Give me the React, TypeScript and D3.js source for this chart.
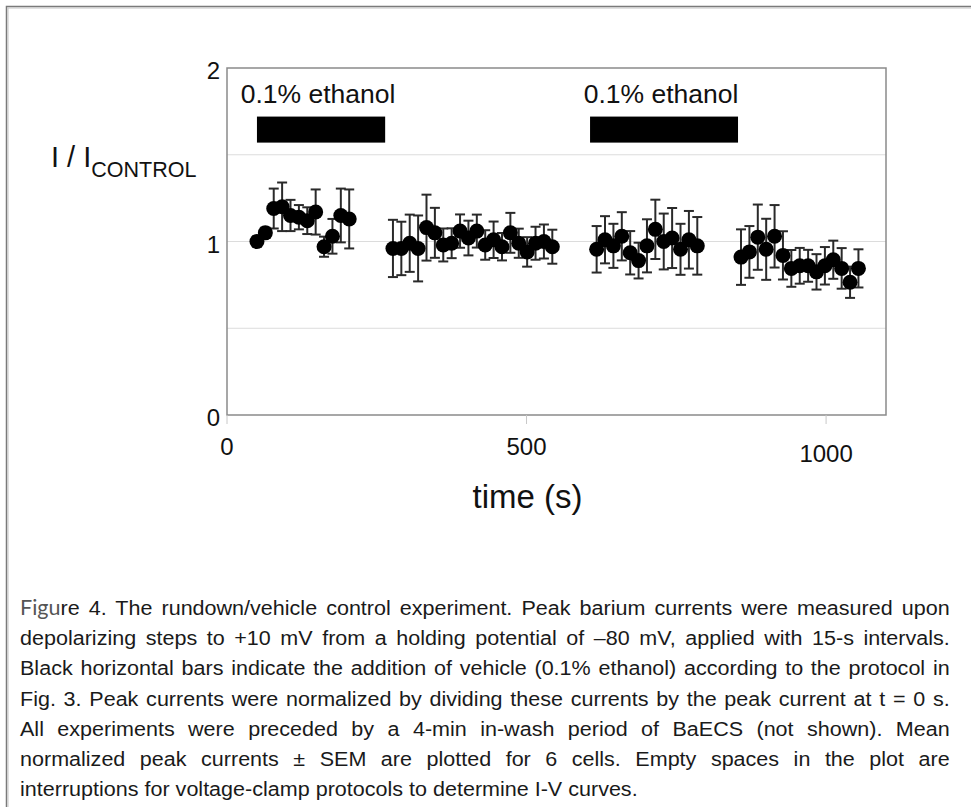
import { useEffect, useRef } from 'react';
import * as d3 from 'd3';

// time (s) of each sweep (4 runs separated by I-V protocols)
const timeS = [
  50, 64, 78, 92, 106, 120, 134, 148, 162, 176, 190, 204,
  277, 291, 305, 319, 333, 347, 361, 375, 389, 403, 417, 431, 445, 459, 473, 487, 501, 515, 529, 543,
  617, 631, 645, 659, 673, 687, 701, 715, 729, 743, 757, 771, 785,
  858, 872, 886, 900, 914, 928, 942, 956, 970, 984, 998, 1012, 1026, 1040, 1054,
];

// normalized peak current I / I control
const meanI = [
  1.0, 1.05, 1.19, 1.2, 1.15, 1.14, 1.12, 1.17, 0.97, 1.03, 1.15, 1.13,
  0.96, 0.96, 0.99, 0.96, 1.08, 1.05, 0.98, 0.99, 1.06, 1.02, 1.06, 0.98, 1.01, 0.97, 1.05, 0.99, 0.94, 0.99, 1.0, 0.97,
  0.955, 1.01, 0.975, 1.03, 0.935, 0.89, 0.975, 1.07, 1.0, 1.02, 0.955, 1.01, 0.975,
  0.91, 0.94, 1.025, 0.955, 1.03, 0.92, 0.845, 0.86, 0.86, 0.825, 0.86, 0.895, 0.845, 0.765, 0.845,
];

// SEM
const semI = [
  0.03, 0.03, 0.115, 0.14, 0.09, 0.07, 0.077, 0.13, 0.058, 0.1, 0.155, 0.17,
  0.165, 0.154, 0.165, 0.19, 0.19, 0.144, 0.095, 0.086, 0.096, 0.1, 0.095, 0.085, 0.105, 0.079, 0.115, 0.084, 0.085, 0.095, 0.098, 0.098,
  0.134, 0.136, 0.127, 0.139, 0.125, 0.103, 0.153, 0.171, 0.161, 0.173, 0.147, 0.166, 0.166,
  0.16, 0.149, 0.188, 0.176, 0.18, 0.139, 0.106, 0.103, 0.092, 0.102, 0.108, 0.11, 0.117, 0.09, 0.11,
];

// ethanol application periods (s)
const ethanolStart = [50, 606];
const ethanolEnd = [264, 853];
const ethanolLabel = ['0.1% ethanol', '0.1% ethanol'];

const xTicks = [0, 500, 1000];
const yTicks = [0, 1, 2];
const yGrid = [0.5, 1, 1.5];

const captionLines = [
  'Figure 4. The rundown/vehicle control experiment. Peak barium currents were measured  upon',
  'depolarizing steps to +10 mV from a holding potential of \u201380 mV, applied with 15-s intervals.',
  'Black horizontal  bars indicate the addition of vehicle (0.1% ethanol) according to the protocol in',
  'Fig. 3.  Peak currents were normalized by dividing these currents by the peak current at t = 0 s.',
  'All experiments were preceded by a 4-min in-wash period of BaECS (not shown). Mean',
  'normalized peak currents \u00b1 SEM are plotted for 6 cells. Empty spaces in the plot are',
  'interruptions for voltage-clamp protocols to determine I-V curves.',
];

function App() {
  const ref = useRef<SVGSVGElement>(null);

  useEffect(() => {
    draw();
    // eslint-disable-next-line
  }, []);

  function draw() {
    const svg = d3.select(ref.current);
    svg.selectAll('*').remove();

    const config = { left: 227, right: 886, top: 68, bottom: 415 };
    const font = 'Liberation Sans, Arial, sans-serif';

    const xScale = d3.scaleLinear().domain([0, 1100]).range([config.left, config.right]);
    const yScale = d3.scaleLinear().domain([0, 2]).range([config.bottom, config.top]);

    // outer frame
    svg.append('rect').attr('x', 6.5).attr('y', 6.5).attr('width', 990).attr('height', 830)
      .style('fill', 'none').style('stroke', '#7a7a7a').style('stroke-width', 1.5);
    svg.append('rect').attr('x', 8).attr('y', 8).attr('width', 990).attr('height', 830)
      .style('fill', 'none').style('stroke', '#c4c4c4').style('stroke-width', 1);

    // gridlines
    svg.append('g').selectAll('line').data(yGrid).join('line')
      .attr('x1', config.left).attr('x2', config.right)
      .attr('y1', d => yScale(d)).attr('y2', d => yScale(d))
      .style('stroke', '#dcdcdc').style('stroke-width', 1);

    // plot frame
    svg.append('rect').attr('x', config.left).attr('y', config.top)
      .attr('width', config.right - config.left).attr('height', config.bottom - config.top)
      .style('fill', 'none').style('stroke', '#8a8a8a').style('stroke-width', 1.5);

    // x ticks + labels
    const xg = svg.append('g');
    xg.selectAll('line').data(xTicks).join('line')
      .attr('x1', d => xScale(d)).attr('x2', d => xScale(d))
      .attr('y1', config.bottom).attr('y2', config.bottom + 9)
      .style('stroke', '#c8c8c8').style('stroke-width', 1);
    xg.selectAll('text').data(xTicks).join('text')
      .attr('x', d => xScale(d))
      .attr('y', d => (d === 1000 ? 462 : 455))
      .attr('text-anchor', 'middle')
      .style('font-family', font).style('font-size', '24px').style('fill', '#111')
      .text(d => d);

    // y labels
    svg.append('g').selectAll('text').data(yTicks).join('text')
      .attr('x', 220).attr('y', d => yScale(d) + 11)
      .attr('text-anchor', 'end')
      .style('font-family', font).style('font-size', '24px').style('fill', '#111')
      .text(d => d);

    // axis titles
    svg.append('text').attr('x', (xScale(0) + xScale(1000)) / 2 + 1).attr('y', 508)
      .attr('text-anchor', 'middle')
      .style('font-family', font).style('font-size', '33px').style('fill', '#111')
      .text('time (s)');

    const yt = svg.append('text').attr('x', 51).attr('y', 167)
      .style('font-family', font).style('font-size', '29px').style('fill', '#111');
    yt.append('tspan').text('I / I');
    yt.append('tspan').attr('dy', 10).style('font-size', '21.5px').text('CONTROL');

    // ethanol bars
    const eth = d3.range(ethanolStart.length);
    svg.append('g').selectAll('rect').data(eth).join('rect')
      .attr('x', i => xScale(ethanolStart[i]))
      .attr('width', i => xScale(ethanolEnd[i]) - xScale(ethanolStart[i]))
      .attr('y', yScale(1.72)).attr('height', yScale(1.57) - yScale(1.72))
      .style('fill', '#000');
    svg.append('g').selectAll('text').data(eth).join('text')
      .attr('x', i => (xScale(ethanolStart[i]) + xScale(ethanolEnd[i])) / 2 - 3)
      .attr('y', 103)
      .attr('text-anchor', 'middle')
      .style('font-family', font).style('font-size', '26.5px').style('fill', '#111')
      .text(i => ethanolLabel[i]);

    // error bars
    const idx = d3.range(timeS.length);
    const eb = svg.append('g').style('stroke', '#2a2a2a').style('stroke-width', 2);
    eb.selectAll('line.v').data(idx).join('line').attr('class', 'v')
      .attr('x1', i => xScale(timeS[i])).attr('x2', i => xScale(timeS[i]))
      .attr('y1', i => yScale(meanI[i] - semI[i])).attr('y2', i => yScale(meanI[i] + semI[i]));
    eb.selectAll('line.t').data(idx).join('line').attr('class', 't')
      .attr('x1', i => xScale(timeS[i]) - 5).attr('x2', i => xScale(timeS[i]) + 5)
      .attr('y1', i => yScale(meanI[i] + semI[i])).attr('y2', i => yScale(meanI[i] + semI[i]));
    eb.selectAll('line.b').data(idx).join('line').attr('class', 'b')
      .attr('x1', i => xScale(timeS[i]) - 5).attr('x2', i => xScale(timeS[i]) + 5)
      .attr('y1', i => yScale(meanI[i] - semI[i])).attr('y2', i => yScale(meanI[i] - semI[i]));

    // points
    svg.append('g').selectAll('circle').data(idx).join('circle')
      .attr('cx', i => xScale(timeS[i])).attr('cy', i => yScale(meanI[i]))
      .attr('r', 7.5).style('fill', '#000');

    // caption, justified
    const capLeft = 20, capRight = 950, capTop = 615, lineH = 30.2;
    const capFont = 'Liberation Sans Narrow, Liberation Sans, Arial, sans-serif';
    const cap = svg.append('g');
    const clean = captionLines.map(l => l.replace(/ {2,}/g, ' '));
    const texts = clean.map((line, i) => {
      const t = cap.append('text').attr('x', 0).attr('y', 0)
        .style('font-family', capFont).style('font-size', '21px').style('fill', '#1a1a1a');
      if (i === 0) {
        t.append('tspan').style('font-family', 'Lato, sans-serif').style('fill', '#555').text('Figu');
        t.append('tspan').text(line.slice(4));
      } else {
        t.text(line);
      }
      return t;
    });
    const lens = texts.map(t => (t.node() as SVGTextElement).getComputedTextLength());
    // horizontal scale so the widest justified line just fills the column
    const sx = d3.min(lens.slice(0, -1), l => (capRight - capLeft) / (l + 24)) ?? 1;
    texts.forEach((t, i) => {
      const spaces = (clean[i].match(/ /g) || []).length;
      if (i < texts.length - 1 && spaces > 0) {
        const target = (capRight - capLeft) / sx;
        t.style('word-spacing', `${Math.max(0, (target - lens[i]) / spaces)}px`);
      }
      t.attr('transform', `translate(${capLeft},${capTop + i * lineH}) scale(${sx},1)`);
    });
  }

  return (
    <svg ref={ref} width={971} height={807}
      style={{ position: 'absolute', left: 0, top: 0, background: '#fff' }} />
  );
}

export default App;
